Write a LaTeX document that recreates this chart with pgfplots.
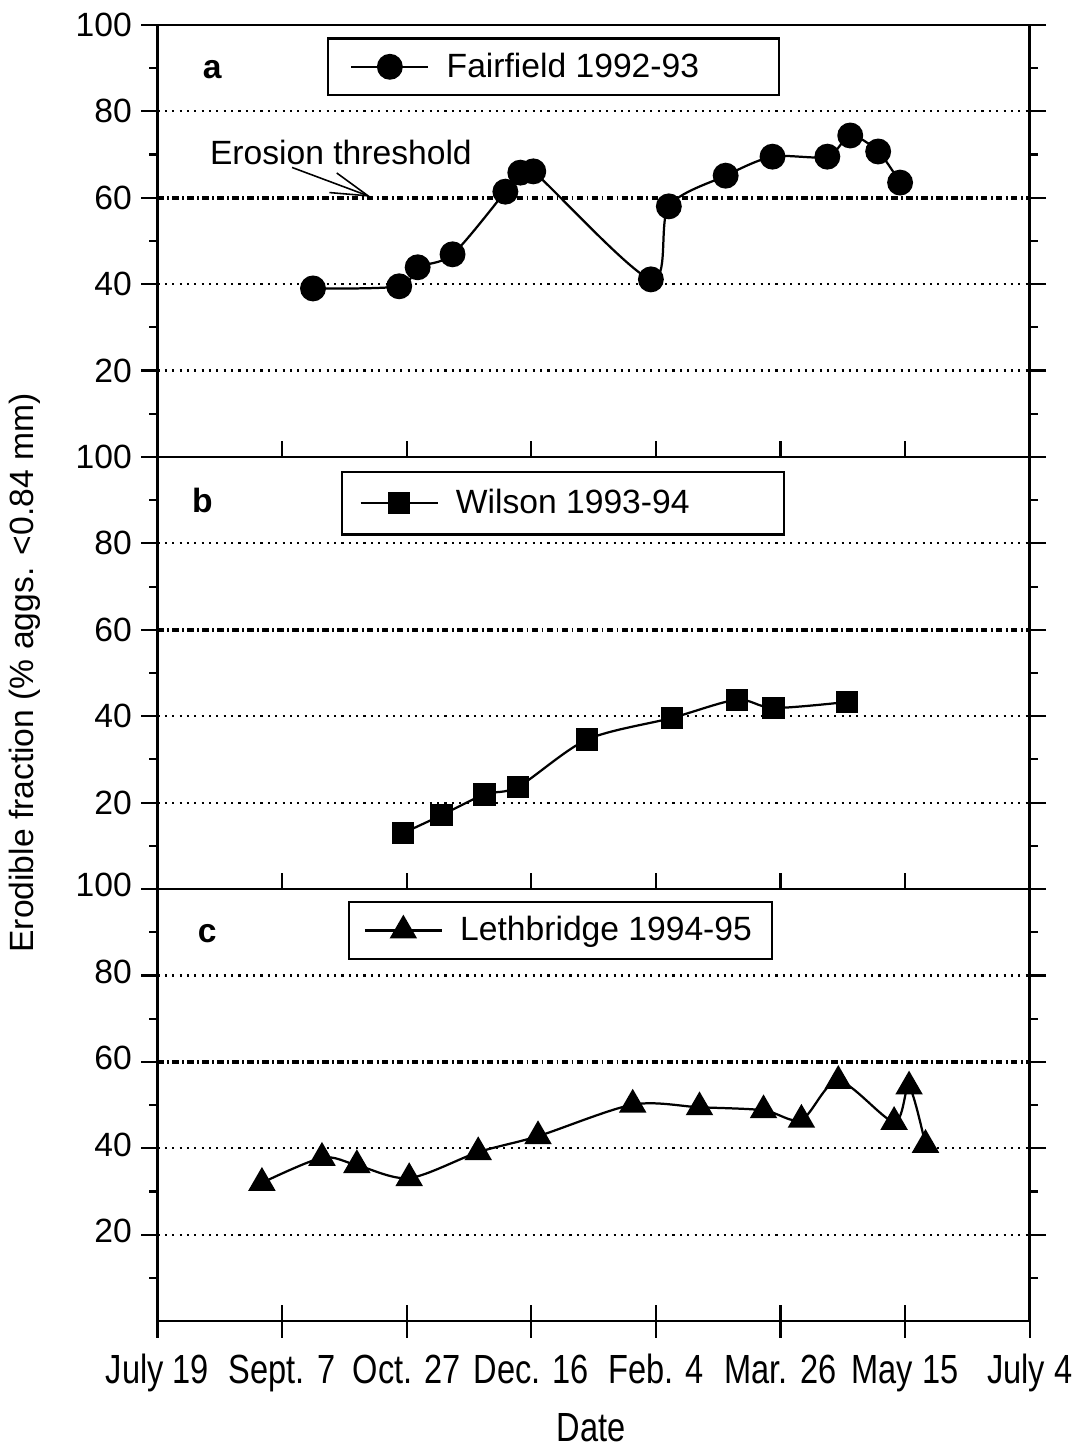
\documentclass[border=0pt]{standalone}
\usepackage{fontspec}
\setmainfont{Liberation Sans}
\usepackage{pgfplots}
\pgfplotsset{compat=1.18}
\usetikzlibrary{arrows.meta}

\newcommand\cf{\fontsize{12.8}{15}\selectfont}
\newcommand\xf{\fontsize{15.5}{18}\selectfont}

\tikzset{
  grd/.style={line width=0.8pt, dash pattern=on 0.8pt off 2pt},
  thr/.style={line width=1.5pt, dash pattern=on 2.4pt off 1.3pt on 0.7pt off 1.3pt},
}

\pgfplotsset{
  panel/.style={
    scale only axis, width=11.667cm, height=5.78cm,
    xmin=0, xmax=350, ymin=0, ymax=100,
    xtick={0,50,...,350}, xtick pos=left, xtick align=inside, xticklabels={},
    ytick={20,40,...,100}, minor ytick={10,30,...,90},
    ytick align=outside, yticklabel pos=left,
    major tick length=0.22cm, minor tick length=0.11cm,
    tick style={line width=0.8pt, black},
    axis line style={line width=0.9pt},
    /pgf/number format/assume math mode=true,
    yticklabel style={font=\cf},
    clip=false,
    legend cell align=left,
    legend style={font=\cf, draw=black, line width=0.9pt, anchor=center,
      inner ysep=0.12cm},
    legend image code/.code={\draw[mark repeat=2,mark phase=2]
      plot coordinates {(0cm,0cm) (0.515cm,0cm) (1.03cm,0cm)};},
  },
  ser/.style={black, line width=0.85pt, smooth, mark options={fill=black, solid}},
}

\begin{document}
\begin{tikzpicture}

% panel a
\begin{axis}[panel, at={(0,11.56cm)},
  legend style={at={(0.454,0.903)}, inner xsep=0.3cm}]
\draw[grd] (axis cs:0,20) -- (axis cs:350,20);
\draw[grd] (axis cs:0,40) -- (axis cs:350,40);
\draw[grd] (axis cs:0,80) -- (axis cs:350,80);
\draw[thr] (axis cs:0,60) -- (axis cs:350,60);
\addplot[ser, mark=*, mark size=4.5pt] coordinates {
  (62.4,39.0) (97,39.5) (104.4,43.9) (118.4,46.9) (139.6,61.4) (145.6,65.8)
  (150.8,66.1) (198,41.1) (205.2,58.0) (228,65.1) (246.8,69.5) (268.8,69.5)
  (278,74.4) (289.2,70.7) (298,63.5)};
\legend{\hspace*{0.16cm}Fairfield 1992-93\hspace*{0.7cm}}
\node[font=\cf\bfseries] at (axis cs:22,89.6) {a};
\node[font=\cf] at (axis cs:73.6,70.4) {Erosion threshold};
\draw[line width=0.6pt, -{Straight Barb[length=0.5cm,width=0.28cm]}]
  (axis cs:54,67) -- (axis cs:85.6,60.2);
\end{axis}

% panel b
\begin{axis}[panel, at={(0,5.78cm)}, name=b,
  legend style={at={(0.465,0.893)}, inner xsep=0.23cm, inner ysep=0.16cm}]
\draw[grd] (axis cs:0,20) -- (axis cs:350,20);
\draw[grd] (axis cs:0,40) -- (axis cs:350,40);
\draw[grd] (axis cs:0,80) -- (axis cs:350,80);
\draw[thr] (axis cs:0,60) -- (axis cs:350,60);
\addplot[ser, mark=square*, mark size=3.8pt] coordinates {
  (98.4,12.9) (114,17.1) (131.2,21.9) (144.8,23.7) (172.4,34.6)
  (206.4,39.6) (232.4,43.8) (247.2,41.9) (276.8,43.3)};
\legend{\hspace*{0.16cm}Wilson 1993-94\hspace*{0.96cm}}
\node[font=\cf\bfseries] at (axis cs:18,90) {b};
\end{axis}

% panel c
\begin{axis}[panel, at={(0,0)},
  xtick align=outside,
  typeset ticklabels with strut,
  xticklabels={July 19, Sept. 7, Oct. 27, Dec. 16, Feb. 4, Mar. 26, May 15, July 4},
  xticklabel style={font=\xf, xscale=0.8, yshift=-0.05cm},
  extra x ticks={0,50,...,350}, extra x tick labels={},
  extra x tick style={xtick align=inside},
  legend style={at={(0.462,0.904)}, inner xsep=0.2cm}]
\draw[grd] (axis cs:0,20) -- (axis cs:350,20);
\draw[grd] (axis cs:0,40) -- (axis cs:350,40);
\draw[grd] (axis cs:0,80) -- (axis cs:350,80);
\draw[thr] (axis cs:0,60) -- (axis cs:350,60);
\addplot[ser, mark=triangle*, mark size=5.2pt] coordinates {
  (41.9,32.0) (66,37.8) (80,36.1) (101,33.1) (128.7,39.1) (152.7,42.8)
  (190.7,50.1) (217.5,49.5) (243.2,48.8) (258.4,46.6) (273.2,55.6)
  (295.6,46.1) (301.6,54.3) (308.2,40.8)};
\legend{\hspace*{0.16cm}Lethbridge 1994-95}
\node[font=\cf\bfseries] at (axis cs:20,89.7) {c};
\node[font=\xf, xscale=0.8] at (axis cs:174,0) [yshift=-1.43cm] {Date};
\end{axis}

\node[font=\cf, rotate=90] at ([xshift=-1.773cm]b.west) {Erodible fraction (\% aggs. <0.84 mm)};

\path (-2.107cm,-1.68cm) rectangle (12.36cm,17.673cm);
\end{tikzpicture}
\end{document}
